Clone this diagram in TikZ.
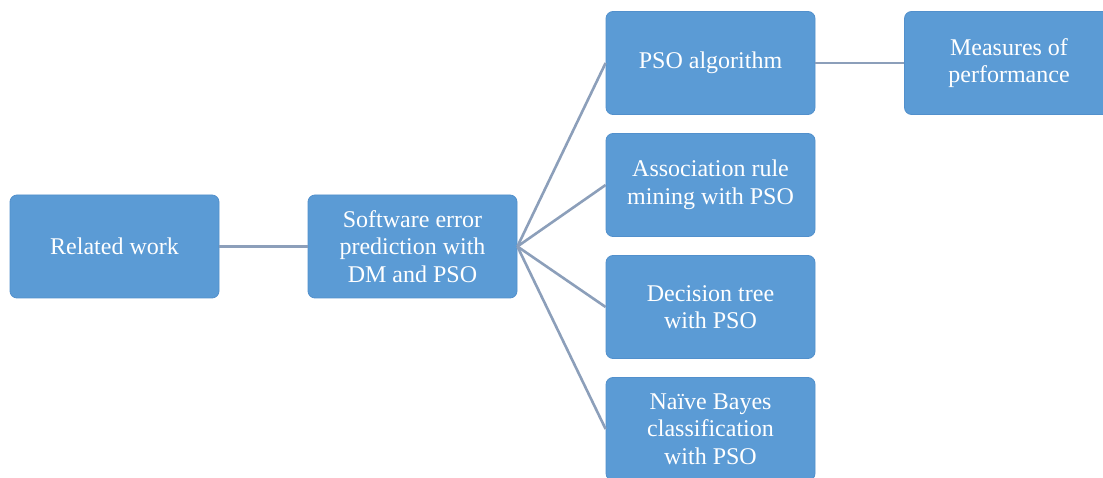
\documentclass[tikz,border=0pt]{standalone}
\usepackage{fontspec}
\setmainfont{Liberation Serif}
\definecolor{boxfill}{HTML}{5B9BD5}
\definecolor{boxdraw}{HTML}{5290CC}
\definecolor{linec}{HTML}{8C9FBA}
\begin{document}
\begin{tikzpicture}[x=1pt,y=-1pt,
  box/.style={draw=boxdraw, line width=0.8pt, fill=boxfill, rounded corners=7pt,
    minimum width=209pt, minimum height=103pt, align=center, text=white,
    inner sep=2pt, font=\fontsize{24}{27.5}\selectfont},
  conn/.style={draw=linec, line width=2.6pt}]
\useasboundingbox (0,0) rectangle (1103,478);
\clip (0,0) rectangle (1103,478);
\fill[white] (0,0) rectangle (1103,478);
\node[box] (rw) at (114.5,246.5) {Related work};
\node[box] (sw) at (412.5,246.5) {Software error\\prediction with\\DM and PSO};
\node[box] (pso) at (710.5,63) {PSO algorithm};
\node[box] (mp) at (1009,63) {Measures of\\performance};
\node[box] (ar) at (710.5,185) {Association rule\\mining with PSO};
\node[box] (dt) at (710.5,307) {Decision tree\\with PSO};
\node[box] (nb) at (710.5,429) {Naïve Bayes\\classification\\with PSO};
\draw[conn] (rw.east) -- (sw.west);
\draw[conn] (sw.east) -- (pso.west);
\draw[conn] (sw.east) -- (ar.west);
\draw[conn] (sw.east) -- (dt.west);
\draw[conn] (sw.east) -- (nb.west);
\draw[conn] (pso.east) -- (mp.west);
\end{tikzpicture}
\end{document}
